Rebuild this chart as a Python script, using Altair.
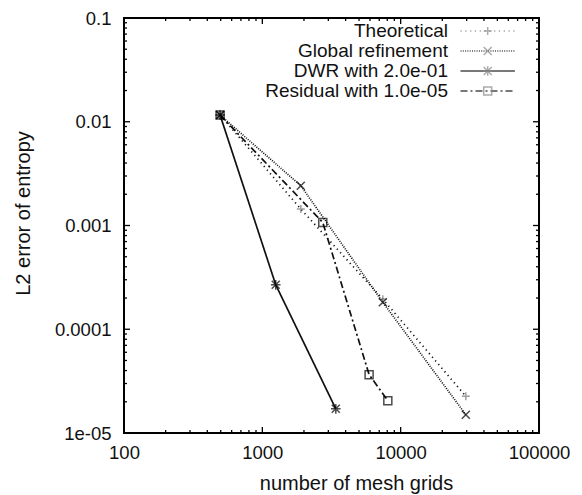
import altair as alt
import pandas as pd

# ---------------- data ----------------
series_names = ["Theoretical", "Global refinement", "DWR with 2.0e-01", "Residual with 1.0e-05"]

theo_x = [495, 1897, 7430, 29580]
theo_y = [0.0116, 0.00144, 0.000195, 2.26e-5]

glob_x = [495, 1897, 7430, 29580]
glob_y = [0.0116, 0.00242, 0.000182, 1.50e-5]

dwr_x = [495, 1250, 3397]
dwr_y = [0.0116, 0.000268, 1.71e-5]

res_x = [495, 2735, 5914, 8075]
res_y = [0.0116, 0.00107, 3.65e-5, 2.05e-5]

x_major = [100, 1000, 10000, 100000]
y_major = [0.1, 0.01, 0.001, 0.0001, 1e-05]
y_major_labels = ["0.1", "0.01", "0.001", "0.0001", "1e-05"]

# ---------------- styling ----------------
FONT = "Liberation Sans"
TXT = "#111111"
W = 415
H = 415
TICK_FS = 18.5
TITLE_FS = 20
LEG_FS = 19

dash_range = [[1.2, 3.6], [1, 1.3], [1, 0], [7, 3, 2, 3]]
marker_paths = [
    "M-1,0H1M0,-1V1",                               # plus
    "M-1,-1L1,1M-1,1L1,-1",                         # cross
    "M-1,-1L1,1M-1,1L1,-1M-1.2,0H1.2M0,-1.2V1.2",   # asterisk
    "M-1,-1H1V1H-1Z",                               # open square
]
# legend samples: line from 5.5 to 19.1 (symbol units), marker centred at 12.3
legend_line_path = "M5.5,0H19.1"
legend_marker_paths = [
    "M11.3,0H13.3M12.3,-1V1",
    "M11.3,-1L13.3,1M11.3,1L13.3,-1",
    "M11.3,-1L13.3,1M11.3,1L13.3,-1M11.1,0H13.5M12.3,-1.2V1.2",
    "M11.3,-1H13.3V1H11.3Z",
]
marker_colors = ["#777777", "#000000", "#000000", "#000000"]

rows = []
for name, xs, ys in zip(series_names, [theo_x, glob_x, dwr_x, res_x], [theo_y, glob_y, dwr_y, res_y]):
    for xv, yv in zip(xs, ys):
        rows.append({"series": name, "series_m": name, "series_l": name, "n": xv, "err": yv})
df = pd.DataFrame(rows)

x_minor = [d * k for d in [100, 1000, 10000] for k in range(2, 10)]
y_minor = [d * k for d in [1e-5, 1e-4, 1e-3, 1e-2] for k in range(2, 10)]

xscale = alt.Scale(type="log", domain=[100, 100000], nice=False)
yscale = alt.Scale(type="log", domain=[1e-5, 0.1], nice=False)

y_label_expr = " : ".join(
    f"datum.value > {v * 0.5} ? '{lab}'" for v, lab in zip(y_major, y_major_labels)
) + " : ''"

x_axis = alt.Axis(orient="bottom", values=x_major, format="d", ticks=False, tickSize=0,
                  domain=False, grid=False, labelFont=FONT, labelFontSize=TICK_FS,
                  labelColor=TXT, labelPadding=10, labelFlush=False, labelOverlap=False,
                  title="number of mesh grids", titleFont=FONT, titleFontSize=TITLE_FS,
                  titleFontWeight="normal", titleColor=TXT, titlePadding=12, titleX=232)
y_axis = alt.Axis(orient="left", values=y_major, labelExpr=y_label_expr, ticks=False,
                  tickSize=0, domain=False, grid=False, labelFont=FONT,
                  labelFontSize=TICK_FS, labelColor=TXT, labelPadding=13,
                  labelFlush=False, labelOverlap=False,
                  title="L2 error of entropy", titleFont=FONT, titleFontSize=TITLE_FS,
                  titleFontWeight="normal", titleColor=TXT, titlePadding=20.5, titleY=195)

LEG_X = 305
LEG_Y = 3.5
ROW_PAD = 0


def legend_def(opacity, **extra):
    return alt.Legend(
        orient="none", legendX=LEG_X, legendY=LEG_Y, title=None,
        symbolSize=64, symbolStrokeWidth=1.5, labelLimit=400,
        labelFont=FONT, labelFontSize=LEG_FS, labelColor=TXT, labelOpacity=opacity,
        labelAlign="right", labelOffset=0, rowPadding=ROW_PAD, **extra,
    )


# layer 1: lines + labelled axes + dash legend
lines = alt.Chart(df).mark_line(strokeWidth=1.7, color="#111111").encode(
    x=alt.X("n:Q", scale=xscale, axis=x_axis),
    y=alt.Y("err:Q", scale=yscale, axis=y_axis),
    strokeDash=alt.StrokeDash(
        "series:N", scale=alt.Scale(domain=series_names, range=dash_range),
        legend=legend_def(1, symbolType=legend_line_path, symbolStrokeColor="black")),
    detail="series:N",
)

# layer 2: markers
points = alt.Chart(df).mark_point(filled=False, size=64, strokeWidth=1.5).encode(
    x=alt.X("n:Q", scale=xscale, axis=x_axis),
    y=alt.Y("err:Q", scale=yscale, axis=y_axis),
    shape=alt.Shape("series_m:N", scale=alt.Scale(domain=series_names, range=marker_paths),
                    legend=None),
    color=alt.Color("series_m:N", scale=alt.Scale(domain=series_names, range=marker_colors),
                    legend=None),
)

# inward tick marks on all four sides, placed through the scales
xt_major = pd.DataFrame({"v": x_major})
xt_minor = pd.DataFrame({"v": x_minor})
yt_major = pd.DataFrame({"v": y_major})
yt_minor = pd.DataFrame({"v": y_minor})


def xticks(data, size):
    base = alt.Chart(data).mark_rule(color="black", strokeWidth=1.3)
    xe = alt.X("v:Q", scale=xscale, axis=x_axis)
    bottom = base.encode(x=xe, y=alt.value(H), y2=alt.value(H - size))
    top = base.encode(x=xe, y=alt.value(0), y2=alt.value(size))
    return [bottom, top]


def yticks(data, size):
    base = alt.Chart(data).mark_rule(color="black", strokeWidth=1.3)
    ye = alt.Y("v:Q", scale=yscale, axis=y_axis)
    left = base.encode(y=ye, x=alt.value(0), x2=alt.value(size))
    right = base.encode(y=ye, x=alt.value(W), x2=alt.value(W - size))
    return [left, right]


tick_layers = (xticks(xt_major, 6) + xticks(xt_minor, 3)
               + yticks(yt_major, 6) + yticks(yt_minor, 3))

# last layer: no marks, only the marker part of the legend samples
mk_legend = legend_def(0)
legend_marks = alt.Chart(df.iloc[0:0]).mark_point(filled=False, size=64, strokeWidth=1.5).encode(
    x=alt.X("n:Q", scale=xscale, axis=x_axis),
    y=alt.Y("err:Q", scale=yscale, axis=y_axis),
    shape=alt.Shape("series_l:N", scale=alt.Scale(domain=series_names, range=legend_marker_paths),
                    legend=mk_legend),
    stroke=alt.Stroke("series_l:N", scale=alt.Scale(domain=series_names, range=marker_colors),
                      legend=mk_legend),
)

chart = alt.layer(lines, points, *tick_layers, legend_marks).resolve_scale(
    shape="independent"
).properties(
    width=W, height=H,
    autosize=alt.AutoSizeParams(type="none"),
    padding={"left": 116, "top": 10, "right": 35, "bottom": 62},
    background="white",
).configure_view(stroke="black", strokeWidth=2)

chart.save("out.html", embed_options={"renderer": "svg", "actions": False})
